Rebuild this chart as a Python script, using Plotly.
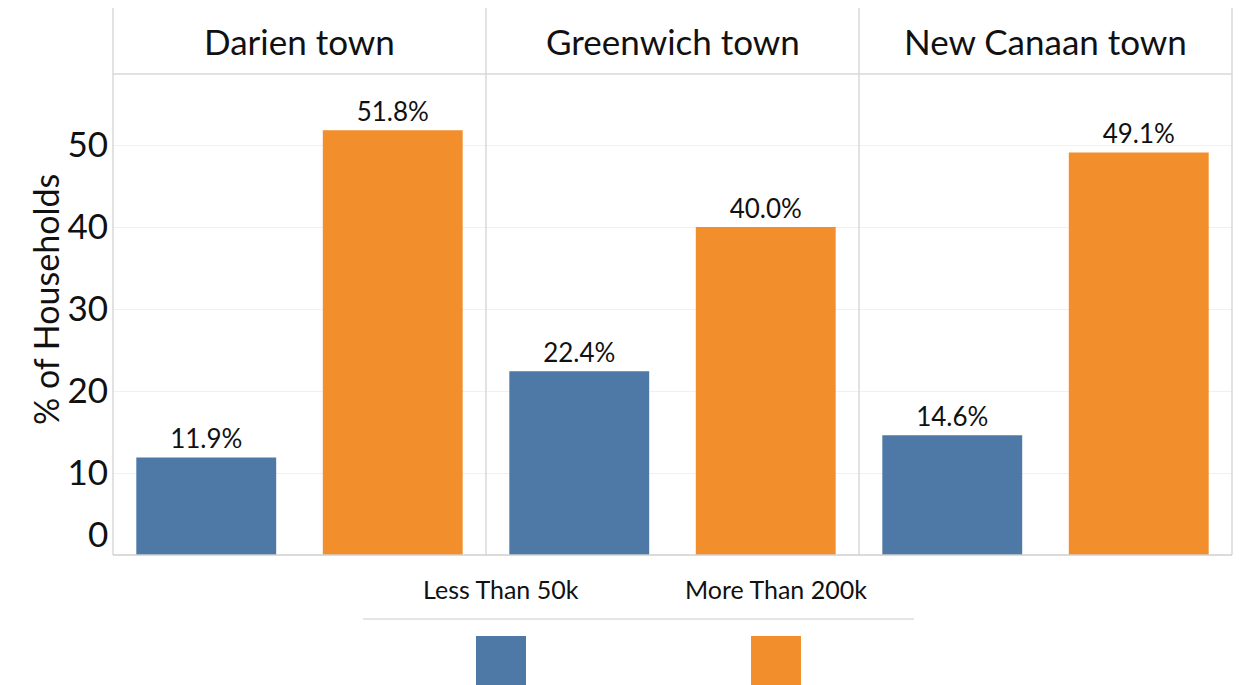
import plotly.graph_objects as go
from plotly.subplots import make_subplots

# Household income share by town
towns = ["Darien town", "Greenwich town", "New Canaan town"]
brackets = ["Less Than 50k", "More Than 200k"]
less_than_50k = [11.9, 22.4, 14.6]
more_than_200k = [51.8, 40.0, 49.1]
colors = ["#4e79a7", "#f28e2b"]
y_ticks = [0, 10, 20, 30, 40, 50]

W, H = 1249, 685
FONT = "Lato"

# pixel layout helpers (paper coordinates)
def px_x(x):
    return x / W

def px_y(y):
    return 1 - y / H

left, right = 113, 1232
top_header, top_plot, bottom = 8, 74, 555
panel_w = (right - left) / 3

fig = make_subplots(rows=1, cols=3, shared_yaxes=True, horizontal_spacing=0)

for i, town in enumerate(towns):
    vals = [less_than_50k[i], more_than_200k[i]]
    fig.add_trace(
        go.Bar(
            x=brackets,
            y=vals,
            marker=dict(color=colors, line=dict(width=0)),
            texttemplate="%{y:.1f}%",
            textposition="outside",
            textfont=dict(family=FONT, size=26, color="#111"),
            cliponaxis=False,
            showlegend=False,
            hoverinfo="skip",
        ),
        row=1,
        col=i + 1,
    )

# the zero label sits just above the baseline, the others on their gridlines
grid_ticks = [t for t in y_ticks if t != 0]

y_dom = [px_y(bottom), px_y(top_plot)]
for i in range(3):
    x0 = left + i * panel_w
    x1 = x0 + panel_w
    xa = "xaxis" if i == 0 else f"xaxis{i + 1}"
    ya = "yaxis" if i == 0 else f"yaxis{i + 1}"
    fig.layout[xa].update(
        domain=[px_x(x0), px_x(x1)],
        range=[-0.5, 1.5],
        showticklabels=False,
        showgrid=False,
        zeroline=False,
        showline=False,
        automargin=False,
        fixedrange=True,
    )
    fig.layout[ya].update(
        domain=y_dom,
        range=[0, 58.66],
        tickvals=grid_ticks,
        showgrid=True,
        gridcolor="#f0f0f0",
        gridwidth=1,
        zeroline=False,
        showline=False,
        showticklabels=(i == 0),
        tickfont=dict(family=FONT, size=35, color="#111"),
        ticks="",
        ticklabelstandoff=4,
        automargin=False,
        fixedrange=True,
    )

shapes = []
line_col = "#d9d9d9"
# vertical panel separators and outer borders
for k in range(4):
    x = left + k * panel_w
    shapes.append(dict(type="line", xref="paper", yref="paper",
                       x0=px_x(x), x1=px_x(x), y0=px_y(top_header), y1=px_y(bottom),
                       line=dict(color=line_col, width=1.5)))
# header separator
shapes.append(dict(type="line", xref="paper", yref="paper",
                   x0=px_x(left), x1=px_x(right), y0=px_y(top_plot), y1=px_y(top_plot),
                   line=dict(color=line_col, width=1.5)))
# baseline
shapes.append(dict(type="line", xref="paper", yref="paper",
                   x0=px_x(left), x1=px_x(right), y0=px_y(bottom), y1=px_y(bottom),
                   line=dict(color="#cfcfcf", width=1.5)))

annotations = []
for i, town in enumerate(towns):
    cx = left + (i + 0.5) * panel_w
    annotations.append(dict(text=town, xref="paper", yref="paper",
                            x=px_x(cx), y=px_y(41), xanchor="center", yanchor="middle",
                            showarrow=False,
                            font=dict(family=FONT, size=35, color="#111")))

# zero tick label
annotations.append(dict(text=str(y_ticks[0]), xref="paper", yref="paper",
                        x=px_x(110), y=px_y(533), xanchor="right", yanchor="middle",
                        showarrow=False,
                        font=dict(family=FONT, size=35, color="#111")))

# y-axis title
annotations.append(dict(text="% of Households", xref="paper", yref="paper",
                        x=px_x(45), y=px_y(300), xanchor="center", yanchor="middle",
                        textangle=-90, showarrow=False,
                        font=dict(family=FONT, size=34, color="#111")))

# legend: labels above a rule, colour swatches below
legend_centers = [501, 776]
for name, col, cx in zip(brackets, colors, legend_centers):
    annotations.append(dict(text=name, xref="paper", yref="paper",
                            x=px_x(cx), y=px_y(589), xanchor="center", yanchor="middle",
                            showarrow=False,
                            font=dict(family=FONT, size=25, color="#111")))
    shapes.append(dict(type="rect", xref="paper", yref="paper",
                       x0=px_x(cx - 25), x1=px_x(cx + 25), y0=px_y(636), y1=px_y(690),
                       fillcolor=col, line=dict(width=0)))
shapes.append(dict(type="line", xref="paper", yref="paper",
                   x0=px_x(363), x1=px_x(914), y0=px_y(619), y1=px_y(619),
                   line=dict(color="#dcdcdc", width=1.5)))

fig.update_layout(
    width=W,
    height=H,
    margin=dict(l=0, r=0, t=0, b=0, autoexpand=False),
    paper_bgcolor="white",
    plot_bgcolor="white",
    bargap=0.25,
    shapes=shapes,
    annotations=annotations,
    font=dict(family=FONT),
)

fig.write_html("out.html", config={"displayModeBar": False})
